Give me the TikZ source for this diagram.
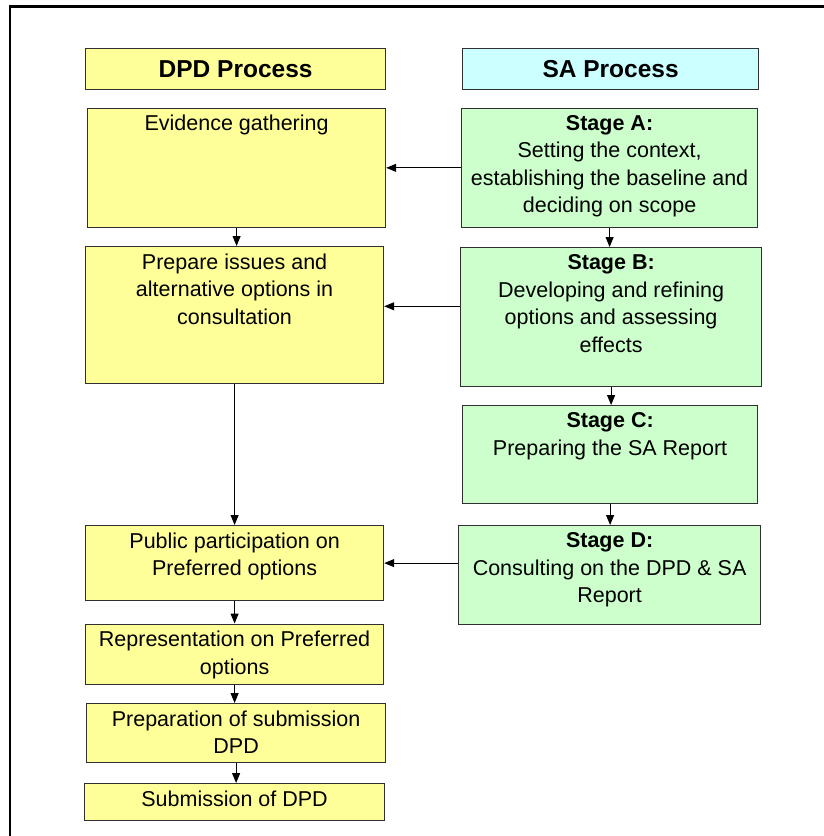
\documentclass[tikz,border=0pt]{standalone}
\usepackage{fontspec}
\setmainfont{Liberation Sans}
\usetikzlibrary{arrows.meta}
\definecolor{dpdyellow}{HTML}{FFFF99}
\definecolor{sacyan}{HTML}{CCFFFF}
\definecolor{sagreen}{HTML}{CCFFCC}
\definecolor{boxline}{HTML}{303030}
\begin{document}
\begin{tikzpicture}[x=1pt,y=-1pt,
  pbox/.style={draw=boxline, line width=1.2pt, inner sep=0pt, anchor=north west},
  ybox/.style={pbox, fill=dpdyellow},
  gbox/.style={pbox, fill=sagreen},
  txt/.style={anchor=north, align=center, inner sep=0pt, font=\fontsize{21.5}{27.5}\selectfont},
  ttl/.style={font=\fontsize{24.5}{28}\selectfont\bfseries},
  arr/.style={-{Triangle[length=10pt,width=8pt]}, line width=1pt, draw=black}]
\useasboundingbox (0,0) rectangle (823,836);
\fill[white] (0,0) rectangle (823,836);
\draw[line width=2.6pt] (10,840) -- (10,6.3) -- (830,6.3);

% titles
\node[pbox, fill=dpdyellow, minimum width=300pt, minimum height=41pt] (dpdT) at (85,48) {};
\node[ttl] (dpdTt) at (dpdT.center) {DPD Process};
\node[pbox, fill=sacyan, minimum width=296pt, minimum height=41pt] (saT) at (462,48) {};
\node[ttl] (saTt) at (saT.center) {SA Process};

% left column
\node[ybox, minimum width=298pt, minimum height=119pt] (ev) at (87,107.5) {};
\node[txt] (evt) at ([yshift=-7.5pt]ev.north) {Evidence gathering};
\node[ybox, minimum width=298pt, minimum height=137pt] (prep) at (85,246) {};
\node[txt] (prept) at ([yshift=-7.5pt]prep.north) {Prepare issues and\\alternative options in\\consultation};
\node[ybox, minimum width=298pt, minimum height=75pt] (pub) at (85,525) {};
\node[txt] (pubt) at ([yshift=-7.5pt]pub.north) {Public participation on\\Preferred options};
\node[ybox, minimum width=298pt, minimum height=60.5pt] (rep) at (85,623.5) {};
\node[txt] (rept) at ([yshift=-7.5pt]rep.north) {Representation on Preferred\\options};
\node[ybox, minimum width=299pt, minimum height=59pt] (prs) at (86,703) {};
\node[txt] (prst) at ([yshift=-7.5pt]prs.north) {Preparation of submission\\DPD};
\node[ybox, minimum width=300pt, minimum height=37pt] (sub) at (84,783) {};
\node[txt] (subt) at ([yshift=-7.5pt]sub.north) {Submission of DPD};

% right column
\node[gbox, minimum width=296pt, minimum height=119.5pt] (stA) at (461,107.5) {};
\node[txt] (stAt) at ([yshift=-7.5pt]stA.north) {\textbf{Stage A:}\\Setting the context,\\establishing the baseline and\\deciding on scope};
\node[gbox, minimum width=301pt, minimum height=139pt] (stB) at (460,247) {};
\node[txt] (stBt) at ([yshift=-7.5pt]stB.north) {\textbf{Stage B:}\\Developing and refining\\options and assessing\\effects};
\node[gbox, minimum width=295pt, minimum height=98pt] (stC) at (462,405) {};
\node[txt] (stCt) at ([yshift=-7.5pt]stC.north) {\textbf{Stage C:}\\Preparing the SA Report};
\node[gbox, minimum width=302pt, minimum height=99pt] (stD) at (458,525) {};
\node[txt] (stDt) at ([yshift=-7.5pt]stD.north) {\textbf{Stage D:}\\Consulting on the DPD \& SA\\Report};

% connectors
\draw[arr] (ev.south) -- (ev.south |- prep.north);
\draw[arr] (prep.south) -- (prep.south |- pub.north);
\draw[arr] (pub.south) -- (pub.south |- rep.north);
\draw[arr] (rep.south) -- (rep.south |- prs.north);
\draw[arr] (prs.south) -- (prs.south |- sub.north);
\draw[arr] (stA.south) -- (stA.south |- stB.north);
\draw[arr] (stB.south) -- (stB.south |- stC.north);
\draw[arr] (stC.south) -- (stC.south |- stD.north);
\draw[arr] (stA.west) -- (stA.west -| ev.east);
\draw[arr] ([yshift=10.8pt]stB.west) -- ([yshift=10.8pt]stB.west -| prep.east);
\draw[arr] (stD.west |- pub.east) -- (pub.east);
\end{tikzpicture}
\end{document}
